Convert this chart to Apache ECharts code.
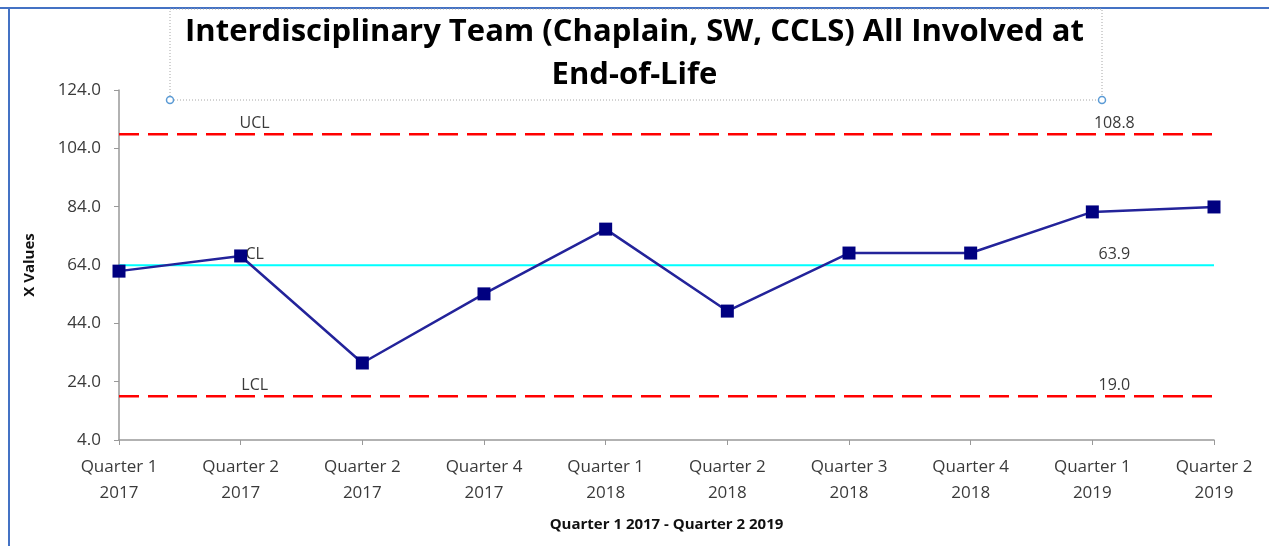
<!DOCTYPE html>
<html>
<head>
<meta charset="utf-8">
<script src="https://cdn.jsdelivr.net/npm/echarts@6/dist/echarts.min.js"></script>
<style>
  html, body { margin: 0; padding: 0; background: #fff; }
  #main { width: 1269px; height: 546px; }
</style>
</head>
<body>
<div id="main"></div>
<script>
const categories = ['Quarter 1\n2017', 'Quarter 2\n2017', 'Quarter 2\n2017', 'Quarter 4\n2017', 'Quarter 1\n2018',
  'Quarter 2\n2018', 'Quarter 3\n2018', 'Quarter 4\n2018', 'Quarter 1\n2019', 'Quarter 2\n2019'];
const xValues = [61.9, 67.1, 30.4, 54.1, 76.3, 48.2, 68.1, 68.1, 82.2, 83.9];
const ucl = 108.8;
const cl = 63.9;
const lcl = 19.0;
// axis runs 4.0 .. 124.0 by 20, drawn on a 0-based scale shifted by yBase
const yBase = 4;
const yMax = 124;
const yStep = 20;

const textColor = '#3a3a3a';
const font = '"Open Sans", "Noto Sans", sans-serif';

const chart = echarts.init(document.getElementById('main'));

function limitSeries(name, value, label, color, type, width) {
  const lbl = { color: textColor, fontSize: 16, fontFamily: font };
  return {
    name: name,
    type: 'line',
    z: 2,
    symbol: 'none',
    silent: true,
    lineStyle: { color: color, width: width, type: type },
    markPoint: {
      symbol: 'circle',
      symbolSize: 0,
      silent: true,
      label: Object.assign({ show: true, position: 'top', distance: 3 }, lbl),
      data: [
        { coord: [1, value - yBase], label: { formatter: label, offset: [14, 0] } },
        { coord: [8, value - yBase], label: { formatter: value.toFixed(1), offset: [22, 0] } }
      ]
    },
    data: categories.map(function () { return value - yBase; })
  };
}

const option = {
  animation: false,
  backgroundColor: '#fff',
  grid: { left: 119, right: 55, top: 90, bottom: 106 },
  xAxis: {
    type: 'category',
    boundaryGap: false,
    data: categories,
    name: 'Quarter 1 2017 - Quarter 2 2019',
    nameLocation: 'middle',
    nameGap: 77,
    nameTextStyle: { color: '#111', fontWeight: 'bold', fontSize: 15, fontFamily: font },
    axisLine: { lineStyle: { color: '#999', width: 1.5 } },
    axisTick: { show: true, alignWithLabel: true, length: 5, lineStyle: { color: '#999' } },
    axisLabel: { color: textColor, fontSize: 17, fontFamily: font, lineHeight: 26, margin: 14 },
    splitLine: { show: false }
  },
  yAxis: {
    type: 'value',
    min: 0,
    max: yMax - yBase,
    interval: yStep,
    name: 'X Values',
    nameLocation: 'middle',
    nameGap: 82,
    nameRotate: 90,
    nameTextStyle: { color: '#111', fontWeight: 'bold', fontSize: 15, fontFamily: font },
    axisLine: { show: true, lineStyle: { color: '#999', width: 1.5 } },
    axisTick: { show: true, length: 5, lineStyle: { color: '#999' } },
    axisLabel: {
      color: textColor, fontSize: 17, fontFamily: font, margin: 18,
      formatter: function (v) { return (v + yBase).toFixed(1); }
    },
    splitLine: { show: false }
  },
  series: [
    limitSeries('UCL', ucl, 'UCL', '#ff0000', [20, 9], 2.5),
    limitSeries('CL', cl, 'CL', '#00ffff', 'solid', 2),
    limitSeries('LCL', lcl, 'LCL', '#ff0000', [20, 9], 2.5),
    {
      name: 'X Values',
      type: 'line',
      z: 5,
      symbol: 'rect',
      symbolSize: 13,
      lineStyle: { color: '#23239a', width: 2.5 },
      itemStyle: { color: '#000080' },
      data: xValues.map(function (v) { return v - yBase; })
    }
  ],
  graphic: [
    { type: 'line', shape: { x1: 0, y1: 8, x2: 1269, y2: 8 }, style: { stroke: '#4472c4', lineWidth: 2 } },
    { type: 'line', shape: { x1: 9, y1: 8, x2: 9, y2: 546 }, style: { stroke: '#4472c4', lineWidth: 2 } },
    {
      type: 'rect', shape: { x: 170, y: 9, width: 932, height: 91 },
      style: { fill: 'none', stroke: '#a6a6a6', lineWidth: 1, lineDash: [1, 2] }
    },
    {
      type: 'text', left: 'center', top: 11,
      style: {
        text: 'Interdisciplinary Team (Chaplain, SW, CCLS) All Involved at\nEnd-of-Life',
        textAlign: 'center',
        font: 'bold 31px ' + font, fill: '#000', lineHeight: 43
      }
    },
    { type: 'circle', shape: { cx: 170, cy: 100, r: 3.5 }, style: { fill: '#fff', stroke: '#5b9bd5', lineWidth: 1.5 } },
    { type: 'circle', shape: { cx: 1102, cy: 100, r: 3.5 }, style: { fill: '#fff', stroke: '#5b9bd5', lineWidth: 1.5 } }
  ]
};

chart.setOption(option);
</script>
</body>
</html>
